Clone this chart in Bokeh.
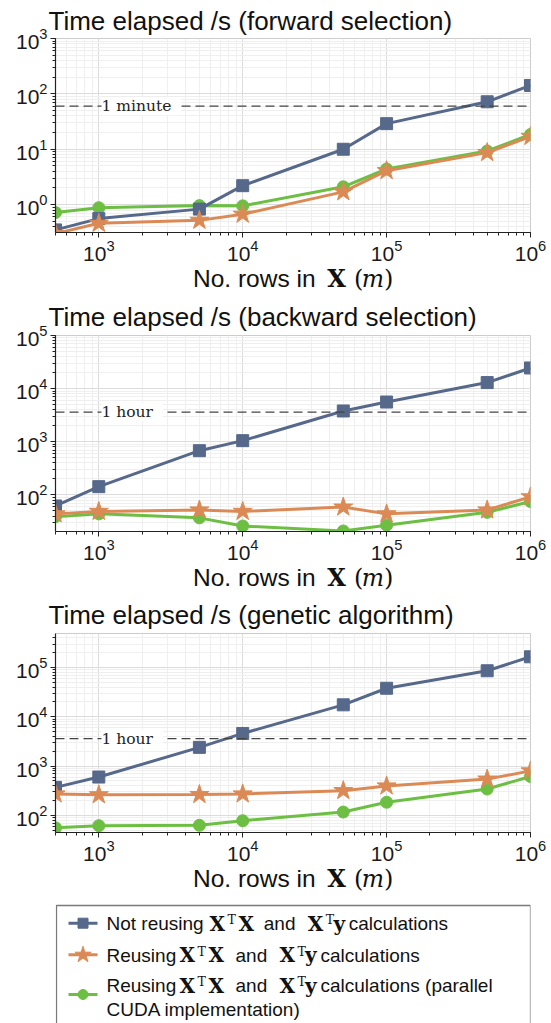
from bokeh.plotting import figure
from bokeh.layouts import column
from bokeh.models import Range1d, Span, Label, ColumnDataSource
from bokeh.embed import file_html
from bokeh.resources import INLINE
from bokeh.core.properties import value

# ---------------- data ----------------
rows = [500, 1000, 5000, 10000, 50000, 100000, 500000, 1000000]

fwd_not_reusing = [0.35, 0.56, 0.83, 2.2, 10, 29, 72, 142]
fwd_reusing = [0.30, 0.46, 0.52, 0.67, 1.7, 4.1, 8.7, 17]
fwd_cuda = [0.72, 0.88, 0.96, 0.95, 2.1, 4.4, 9.3, 18.5]

bwd_not_reusing = [62, 143, 680, 1050, 3800, 5600, 13000, 24500]
bwd_reusing = [44, 49, 52, 49, 59, 44, 52, 92]
bwd_cuda = [39, 44, 37, 26, 21, 27, 47, 75]

ga_not_reusing = [370, 600, 2400, 4600, 17500, 38000, 86000, 165000]
ga_reusing = [272, 262, 265, 272, 318, 395, 545, 800]
ga_cuda = [56, 62, 63, 78, 117, 185, 343, 615]

titles = ["Time elapsed /s (forward selection)",
          "Time elapsed /s (backward selection)",
          "Time elapsed /s (genetic algorithm)"]
ref_values = [60, 3600, 3600]
ref_texts = [" 1 minute ", " 1 hour ", " 1 hour "]
y_limits = [(0.314, 1000), (20.5, 100000), (45, 490000)]

legend_names = ["Not reusing", "Reusing", "Reusing"]

# ---------------- style ----------------
BLUE = "#56698b"
ORANGE = "#dc8a55"
GREEN = "#6dbf43"
SANS = "Liberation Sans"
SERIF = "DejaVu Serif"
INK = "#111111"

W = 551
FRAME_LEFT = 55
FRAME_RIGHT = 530
MBL = FRAME_LEFT
MBR = W - FRAME_RIGHT


def make_panel(title, ylim, series, ref_val, ref_text, fig_top, frame_top, frame_bottom,
               fig_bottom, standoff):
    h = fig_bottom - fig_top
    p = figure(width=W, height=h, x_axis_type="log", y_axis_type="log",
               x_range=Range1d(500, 1e6), y_range=Range1d(*ylim),
               output_backend="svg", toolbar_location=None, title=title,
               min_border_left=MBL, min_border_right=MBR,
               min_border_top=frame_top - fig_top,
               min_border_bottom=fig_bottom - frame_bottom)
    p.title.align = "left"
    p.title.offset = -7
    p.title.standoff = standoff
    p.title.text_font = SANS
    p.title.text_font_size = "26px"
    p.title.text_font_style = "normal"
    p.title.text_color = INK
    p.outline_line_color = "#cccccc"
    p.background_fill_color = "white"
    p.border_fill_color = "white"
    for ax in (p.xaxis[0], p.yaxis[0]):
        ax.ticker.num_minor_ticks = 10
        ax.major_label_text_font = SANS
        ax.major_label_text_font_size = "21px"
        ax.major_label_text_color = "#1a1a1a"
        ax.axis_line_color = "#222222"
        ax.axis_line_width = 1.2
        ax.major_tick_line_color = "#222222"
        ax.minor_tick_line_color = "#222222"
        ax.major_tick_out = 5
        ax.major_tick_in = 0
        ax.minor_tick_out = 3
        ax.minor_tick_in = 0
    p.xaxis[0].major_label_standoff = 2
    p.yaxis[0].major_label_standoff = 3
    for g in (p.xgrid[0], p.ygrid[0]):
        g.grid_line_color = "#dcdcdc"
        g.minor_grid_line_color = "#efefef"

    cuda, notre, re = series
    for ys, color, marker, size in [(cuda, GREEN, "circle", 12),
                                    (notre, BLUE, "square", 12),
                                    (re, ORANGE, "star", 20)]:
        src = ColumnDataSource(dict(x=rows, y=ys))
        p.line("x", "y", source=src, line_color=color, line_width=3)
        p.scatter("x", "y", source=src, marker=marker, size=size,
                  fill_color=color, line_color=color)

    p.add_layout(Span(location=ref_val, dimension="width", line_color="#444444",
                      line_dash="9 5", line_width=1.3))
    p.add_layout(Label(x=500, y=ref_val, x_offset=101 - FRAME_LEFT, text=ref_text,
                       text_baseline="middle", text_font=SERIF, text_font_size="15.5px",
                       text_color="#222222", background_fill_color="white"))
    return p


def text_fig(top, bottom):
    f = figure(width=W, height=bottom - top, x_range=Range1d(FRAME_LEFT, FRAME_RIGHT),
               y_range=Range1d(bottom, top), output_backend="svg",
               toolbar_location=None, title=None, x_axis_location=None,
               y_axis_location=None, min_border_left=MBL, min_border_right=MBR,
               min_border_top=0, min_border_bottom=0)
    f.outline_line_color = None
    f.grid.visible = False
    f.background_fill_color = "white"
    f.border_fill_color = "white"
    return f


def put(f, xs, ys, ts, font, size, style="normal", align="left"):
    f.text(x=xs, y=ys, text=ts, text_font=value(font), text_font_size=value(size),
           text_font_style=value(style), text_color=INK,
           text_baseline=value("middle"), text_align=value(align))


def xlabel(f, mid):
    L = (FRAME_LEFT + FRAME_RIGHT) / 2 - 100
    put(f, [L], [mid], ["No. rows in"], SANS, "24.5px")
    put(f, [L + 143.6], [mid], ["X"], SERIF, "24px", "bold", "center")
    put(f, [L + 165.8, L + 195.6], [mid, mid], ["(", ")"], SERIF, "24px", "normal", "center")
    put(f, [L + 180], [mid], ["m"], SERIF, "23.5px", "italic", "center")


p1 = make_panel(titles[0], y_limits[0], (fwd_cuda, fwd_not_reusing, fwd_reusing),
                ref_values[0], ref_texts[0], 0, 37, 232, 264, 6)
x1 = text_fig(264, 293)
xlabel(x1, 278.3)
p2 = make_panel(titles[1], y_limits[1], (bwd_cuda, bwd_not_reusing, bwd_reusing),
                ref_values[1], ref_texts[1], 293, 335, 531, 563, 8)
x2 = text_fig(563, 593)
xlabel(x2, 577.3)
p3 = make_panel(titles[2], y_limits[2], (ga_cuda, ga_not_reusing, ga_reusing),
                ref_values[2], ref_texts[2], 593, 633, 832, 864, 8)

# ---------------- x label 3 + legend (page-pixel coordinates) ----------------
LG_TOP, LG_BOT = 864, 1023
lg = text_fig(LG_TOP, LG_BOT)
xlabel(lg, 878.3)

lg.line([56, 56, 530, 530], [LG_BOT, 905, 905, LG_BOT], line_color="#7a7a7a", line_width=1.3)

samples = [(922.7, BLUE, "square", 10), (954.3, ORANGE, "star", 17), (994, GREEN, "circle", 10)]
for yy, color, marker, size in samples:
    lg.segment(x0=[68], y0=[yy], x1=[97], y1=[yy], line_color=color, line_width=3)
    lg.scatter(x=[82.5], y=[yy], marker=marker, size=size, fill_color=color, line_color=color)


def xtx(left, mid, second, off2):
    put(lg, [left + 10, left + off2], [mid, mid], ["X", second], SERIF, "20px", "bold", "center")
    put(lg, [left + 24.5], [mid - 4], ["T"], SERIF, "12.5px", "normal", "center")


m1, m2, m3, m4 = 923, 954.7, 985.3, 1008.7
put(lg, [106, 263.3, 348.3], [m1, m1, m1], [legend_names[0], "and", "calculations"], SANS, "19px")
xtx(206.7, m1, "X", 39)
xtx(305, m1, "y", 33.7)
for mm, nm, tail in [(m2, legend_names[1], "calculations"),
                     (m3, legend_names[2], "calculations (parallel")]:
    put(lg, [106, 235, 320], [mm, mm, mm], [nm, "and", tail], SANS, "19px")
    xtx(176.7, mm, "X", 39)
    xtx(276.7, mm, "y", 33.7)
put(lg, [106], [m4], ["CUDA implementation)"], SANS, "19px")

layout = column(p1, x1, p2, x2, p3, lg, spacing=0)
open("out.html", "w").write(file_html(layout, INLINE))
